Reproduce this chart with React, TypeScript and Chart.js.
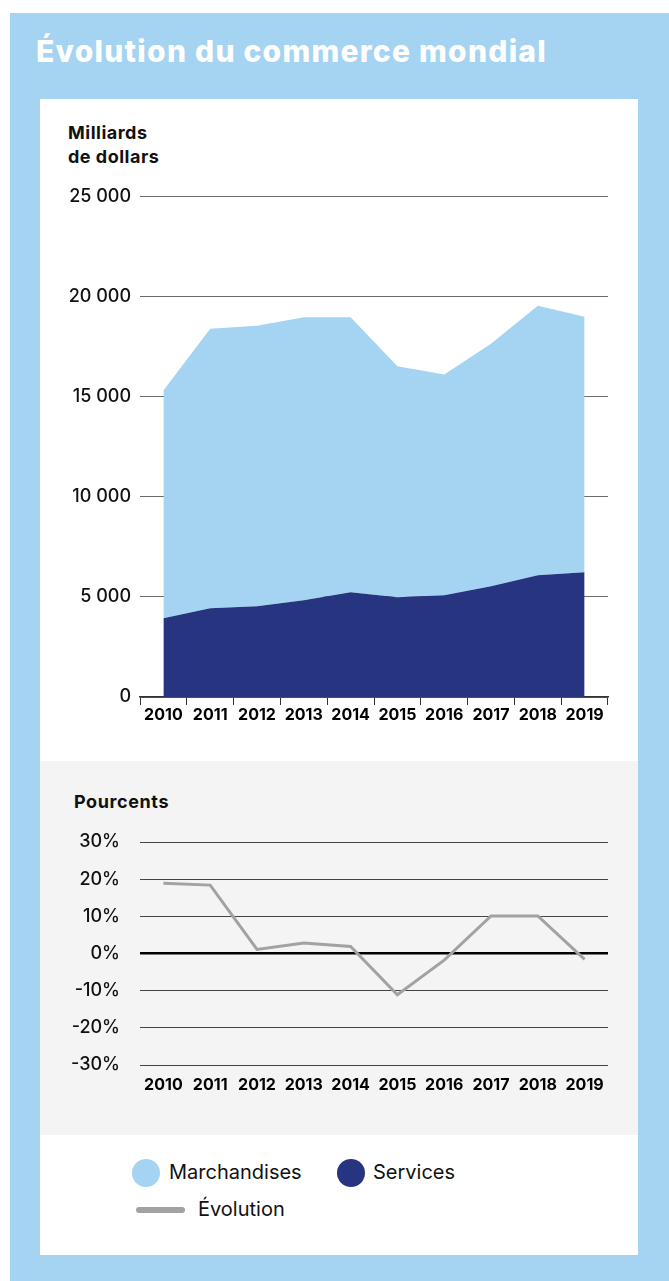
import React, { useEffect, useRef } from "react";
import { Chart, registerables } from "chart.js";

Chart.register(...registerables);

const years = ["2010", "2011", "2012", "2013", "2014", "2015", "2016", "2017", "2018", "2019"];
const services = [3940, 4440, 4540, 4840, 5240, 4990, 5090, 5540, 6090, 6240];
const marchandises = [11380, 13960, 14020, 14140, 13740, 11540, 11030, 12120, 13470, 12770];
const evolution = [18.9, 18.4, 1.1, 2.8, 1.9, -11.1, -1.8, 10.1, 10.1, -1.6];

const LIGHT = "#a4d4f2";
const NAVY = "#273581";
const GRAYLINE = "#a2a2a2";
const FONT = "Inter, 'Open Sans', sans-serif";

function fmtThousands(v: number) {
  return String(v).replace(/\B(?=(\d{3})+(?!\d))/g, " ");
}

function AreaChart() {
  const ref = useRef<HTMLCanvasElement | null>(null);
  useEffect(() => {
    if (!ref.current) return;
    const chart = new Chart(ref.current, {
      type: "line",
      data: {
        labels: years,
        datasets: [
          {
            label: "Services",
            data: services,
            backgroundColor: NAVY,
            borderColor: NAVY,
            borderWidth: 0,
            pointRadius: 0,
            fill: "origin",
            tension: 0,
          },
          {
            label: "Marchandises",
            data: marchandises,
            backgroundColor: LIGHT,
            borderColor: LIGHT,
            borderWidth: 0,
            pointRadius: 0,
            fill: "-1",
            tension: 0,
          },
        ],
      },
      options: {
        animation: false,
        responsive: false,
        maintainAspectRatio: false,
        layout: { padding: { top: 13, right: 30, left: 0, bottom: 0 } },
        plugins: { legend: { display: false }, tooltip: { enabled: false } },
        scales: {
          x: {
            offset: true,
            grid: {
              display: true,
              offset: true,
              drawOnChartArea: false,
              drawTicks: true,
              tickLength: 8,
              color: "#333",
              lineWidth: 1,
            },
            border: { display: true, color: "#333", width: 1.5 },
            ticks: {
              color: "#000",
              padding: 1,
              maxRotation: 0,
              autoSkip: false,
              font: { family: FONT, size: 16, weight: "bold" },
            },
            afterFit: (s: any) => {
              s.height = 30;
            },
          },
          y: {
            stacked: true,
            min: 0,
            max: 25000,
            grid: { color: "#6b6b6b", lineWidth: 1, drawTicks: false },
            border: { display: false },
            ticks: {
              stepSize: 5000,
              padding: 9,
              color: "#111",
              font: { family: FONT, size: 18, weight: 500 },
              callback: (v: any) => fmtThousands(Number(v)),
            },
            afterFit: (s: any) => {
              s.width = 100;
            },
          },
        },
      },
    });
    return () => chart.destroy();
  }, []);
  return (
    <canvas
      ref={ref}
      width={598}
      height={550}
      style={{ position: "absolute", left: 40, top: 177, width: 598, height: 550 }}
    />
  );
}

function LineChart() {
  const ref = useRef<HTMLCanvasElement | null>(null);
  useEffect(() => {
    if (!ref.current) return;
    const chart = new Chart(ref.current, {
      type: "line",
      data: {
        labels: years,
        datasets: [
          {
            label: "Évolution",
            data: evolution,
            borderColor: GRAYLINE,
            borderWidth: 3,
            pointRadius: 0,
            fill: false,
            tension: 0,
          },
        ],
      },
      options: {
        animation: false,
        responsive: false,
        maintainAspectRatio: false,
        layout: { padding: { top: 42, right: 30, left: 0, bottom: 0 } },
        plugins: { legend: { display: false }, tooltip: { enabled: false } },
        scales: {
          x: {
            offset: true,
            grid: { display: false },
            border: { display: false },
            ticks: {
              color: "#000",
              padding: 3,
              maxRotation: 0,
              autoSkip: false,
              font: { family: FONT, size: 16, weight: "bold" },
            },
            afterFit: (s: any) => {
              s.height = 35;
            },
          },
          y: {
            min: -30,
            max: 30,
            grid: {
              drawTicks: false,
              color: (c: any) => (c.tick && c.tick.value === 0 ? "#000" : "#444"),
              lineWidth: (c: any) => (c.tick && c.tick.value === 0 ? 2.5 : 1),
            },
            border: { display: false },
            ticks: {
              stepSize: 10,
              padding: 20,
              color: "#111",
              font: { family: FONT, size: 18, weight: 500 },
              callback: (v: any) => `${v}%`,
            },
            afterFit: (s: any) => {
              s.width = 100;
            },
          },
        },
      },
    });
    return () => chart.destroy();
  }, []);
  return (
    <canvas
      ref={ref}
      width={598}
      height={300}
      style={{ position: "absolute", left: 40, top: 800, width: 598, height: 300 }}
    />
  );
}

export default function App() {
  const txt: React.CSSProperties = { position: "absolute", fontFamily: FONT, color: "#111", whiteSpace: "nowrap" };
  return (
    <div style={{ position: "absolute", left: 0, top: 0, width: 669, height: 1281, background: "#fff", overflow: "hidden" }}>
      <div style={{ position: "absolute", left: 10, top: 13, width: 659, height: 1268, background: LIGHT }} />
      <div
        style={{
          ...txt,
          left: 36,
          top: 32,
          color: "#fff",
          fontSize: 30,
          fontWeight: 800,
          letterSpacing: 1.25,
          lineHeight: "38px",
        }}
      >
        Évolution du commerce mondial
      </div>
      <div style={{ position: "absolute", left: 40, top: 99, width: 598, height: 1156, background: "#fff" }} />
      <div style={{ position: "absolute", left: 40, top: 761, width: 598, height: 374, background: "#f4f4f4" }} />
      <div style={{ ...txt, left: 68, top: 121, fontSize: 18, fontWeight: 700, letterSpacing: 0.5, lineHeight: "24px" }}>
        Milliards
        <br />
        de dollars
      </div>
      <AreaChart />
      <div style={{ ...txt, left: 74, top: 790, fontSize: 18, fontWeight: 700, letterSpacing: 0.6, lineHeight: "24px" }}>
        Pourcents
      </div>
      <LineChart />
      <div style={{ position: "absolute", left: 132, top: 1159, width: 28, height: 28, borderRadius: 14, background: LIGHT }} />
      <div style={{ ...txt, left: 169, top: 1160, fontSize: 20, lineHeight: "24px" }}>Marchandises</div>
      <div style={{ position: "absolute", left: 337, top: 1159, width: 28, height: 28, borderRadius: 14, background: NAVY }} />
      <div style={{ ...txt, left: 373, top: 1160, fontSize: 20, lineHeight: "24px" }}>Services</div>
      <div style={{ position: "absolute", left: 136, top: 1207, width: 49, height: 6, borderRadius: 3, background: GRAYLINE }} />
      <div style={{ ...txt, left: 198, top: 1197, fontSize: 20, lineHeight: "24px" }}>Évolution</div>
    </div>
  );
}
